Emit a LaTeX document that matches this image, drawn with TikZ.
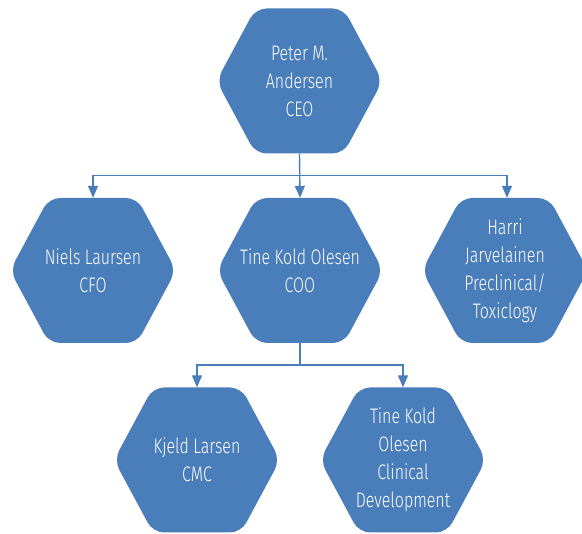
\documentclass[tikz,border=0pt]{standalone}
\usepackage{fontspec}
\setmainfont{Fira Sans}[UprightFont={* Light}, FakeStretch=0.76]
\usetikzlibrary{arrows.meta}
\definecolor{hexblue}{HTML}{4A7EBB}

\begin{document}
\begin{tikzpicture}[
  x=1pt, y=1pt,
  hexbox/.style={rectangle, minimum width=166pt, minimum height=145pt, inner sep=0pt,
    align=center, text=white, font=\fontsize{21}{28}\selectfont,
    path picture={\fill[hexblue, rounded corners=11pt]
      (path picture bounding box.west) -- ([xshift=39pt]path picture bounding box.north west)
      -- ([xshift=-39pt]path picture bounding box.north east) -- (path picture bounding box.east)
      -- ([xshift=-39pt]path picture bounding box.south east) -- ([xshift=39pt]path picture bounding box.south west)
      -- cycle;}},
  link/.style={-{Triangle[width=10pt,length=12pt]}, draw=hexblue, line width=1.4pt}
]
  \useasboundingbox (0,0) rectangle (582,534);

  % Top
  \node[hexbox] (ceo) at (299.5,453) {Peter M.\\Andersen\\CEO};

  % Second row
  \node[hexbox] (cfo) at (93,263.5) {Niels Laursen\\CFO};
  \node[hexbox] (coo) at (300,263.5) {Tine Kold Olesen\\COO};
  \node[hexbox] (tox) at (505,263.5) {Harri\\Jarvelainen\\Preclinical/\\Toxiclogy};

  % Third row
  \node[hexbox] (cmc) at (197,74) {Kjeld Larsen\\CMC};
  \node[hexbox] (clin) at (403,74) {Tine Kold\\Olesen\\Clinical\\Development};

  % Arrows
  \draw[link] (ceo.south) -- ++(0,-22) -| (cfo.north);
  \draw[link] (ceo.south) -- (coo.north);
  \draw[link] (ceo.south) -- ++(0,-22) -| ([xshift=2pt]tox.north);
  \draw[link] (coo.south) -- ++(0,-22) -| (cmc.north);
  \draw[link] (coo.south) -- ++(0,-22) -| (clin.north);
\end{tikzpicture}
\end{document}
